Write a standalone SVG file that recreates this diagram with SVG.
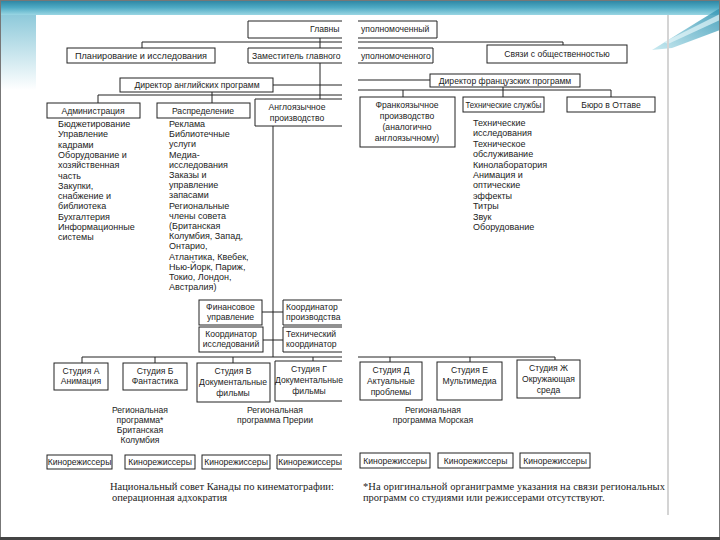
<svg xmlns="http://www.w3.org/2000/svg" width="720" height="540" viewBox="0 0 720 540">
<defs>
<linearGradient id="hdr" x1="0" y1="0" x2="0" y2="1">
<stop offset="0" stop-color="#2b82a0"/>
<stop offset="0.5" stop-color="#4eaac4"/>
<stop offset="1" stop-color="#9ad6e3"/>
</linearGradient>
<linearGradient id="side" x1="0" y1="0" x2="0" y2="1">
<stop offset="0" stop-color="#78bfd3"/>
<stop offset="1" stop-color="#ffffff"/>
</linearGradient>
<linearGradient id="sw" x1="0" y1="1" x2="1" y2="0">
<stop offset="0" stop-color="#bfe6ee"/>
<stop offset="1" stop-color="#2f93b2"/>
</linearGradient>
<style>
.box{fill:#fff;stroke:#222;stroke-width:1}
.ob{fill:none;stroke:#222;stroke-width:1}
.ln{fill:none;stroke:#222;stroke-width:1}
.t{font-family:"Liberation Sans",Arial,sans-serif;font-size:8.6px;fill:#1c1c1c}
.l{font-size:9px}
.c{text-anchor:middle}
.s{font-family:"Liberation Serif","Times New Roman",serif;font-size:10.5px;fill:#1c1c1c}
</style>
</defs>

<!-- slide background -->
<rect x="0" y="0" width="720" height="540" fill="#ffffff"/>
<rect x="0" y="0" width="36" height="90" fill="url(#side)"/>
<rect x="0" y="0" width="720" height="15" fill="url(#hdr)"/>
<polygon points="652,50 720,8 720,30 672,48" fill="url(#sw)" opacity="0.85"/>
<polygon points="664,42 720,14 720,20 668,44" fill="#e6f6f9" opacity="0.7"/>
<line x1="668" y1="15" x2="668" y2="515" stroke="#d4d4d4" stroke-width="2"/>
<rect x="0.5" y="0.5" width="719" height="539" fill="none" stroke="#777" stroke-width="1"/>
<line x1="0" y1="538.5" x2="720" y2="538.5" stroke="#444" stroke-width="3"/>

<!-- connectors -->
<g id="connectors">
<path class="ln" d="M320,38 V48 M320,63 V95"/>
<path class="ln" d="M142,48 V42 H342 M358,42 H563 V45"/>
<path class="ln" d="M273,85 H342 M358,80 H430"/>
<path class="ln" d="M98,103 V95 H342 M212,92 V103 M320,95 V99"/>
<path class="ln" d="M358,90 H611 V97 M403,90 V97 M503,87 V97"/>
<path class="ln" d="M273,126 V357"/>
<path class="ln" d="M262,312 H283 M263,340 H283"/>
<path class="ln" d="M82,363 V357 H342 M155,357 V363 M233,357 V363 M313,357 V361"/>
<path class="ln" d="M358,357 H555 V360 M390,357 V362 M470,357 V362"/>
</g>

<!-- top level -->
<g id="chief">
<path class="ob" d="M342,21 H248 V38 H342 M358,21 H437 V38 H358"/>
<text class="t" x="310" y="32">Главны</text>
<text class="t" x="361" y="32">уполномоченный</text>
</g>
<g id="planning">
<rect class="box" x="67" y="48" width="148" height="15"/>
<text class="t c" x="141" y="58.5" textLength="132" lengthAdjust="spacingAndGlyphs">Планирование и исследования</text>
</g>
<g id="deputy">
<path class="ob" d="M342,48 H248 V63 H342 M358,48 H433 V63 H358"/>
<text class="t" x="252" y="58.5">Заместитель главного</text>
<text class="t" x="361" y="58.5">уполномоченного</text>
</g>
<g id="pr">
<rect class="box" x="487" y="45" width="140" height="18"/>
<text class="t c" x="557" y="57">Связи с общественностью</text>
</g>
<g id="dir-en">
<rect class="box" x="120" y="78" width="153" height="14"/>
<text class="t c" x="197" y="88">Директор английских программ</text>
</g>
<g id="dir-fr">
<rect class="box" x="430" y="74" width="150" height="13"/>
<text class="t c" x="505" y="84">Директор французских программ</text>
</g>

<!-- english units -->
<g id="admin">
<rect class="box" x="47" y="103" width="93" height="15"/>
<text class="t c" x="93" y="113.5">Администрация</text>
<text class="t l" x="58" y="127">
<tspan x="58">Бюджетирование</tspan>
<tspan x="58" dy="10.3">Управление</tspan>
<tspan x="58" dy="10.3">кадрами</tspan>
<tspan x="58" dy="10.3">Оборудование и</tspan>
<tspan x="58" dy="10.3">хозяйственная</tspan>
<tspan x="58" dy="10.3">часть</tspan>
<tspan x="58" dy="10.3">Закупки,</tspan>
<tspan x="58" dy="10.3">снабжение и</tspan>
<tspan x="58" dy="10.3">библиотека</tspan>
<tspan x="58" dy="10.3">Бухгалтерия</tspan>
<tspan x="58" dy="10.3">Информационные</tspan>
<tspan x="58" dy="10.3">системы</tspan>
</text>
</g>
<g id="distribution">
<rect class="box" x="157" y="103" width="93" height="15"/>
<text class="t c" x="203" y="113.5">Распределение</text>
<text class="t l" x="169" y="127">
<tspan x="169">Реклама</tspan>
<tspan x="169" dy="10.2">Библиотечные</tspan>
<tspan x="169" dy="10.2">услуги</tspan>
<tspan x="169" dy="10.2">Медиа-</tspan>
<tspan x="169" dy="10.2">исследования</tspan>
<tspan x="169" dy="10.2">Заказы и</tspan>
<tspan x="169" dy="10.2">управление</tspan>
<tspan x="169" dy="10.2">запасами</tspan>
<tspan x="169" dy="10.2">Региональные</tspan>
<tspan x="169" dy="10.2">члены совета</tspan>
<tspan x="169" dy="10.2">(Британская</tspan>
<tspan x="169" dy="10.2">Колумбия, Запад,</tspan>
<tspan x="169" dy="10.2">Онтарио,</tspan>
<tspan x="169" dy="10.2">Атлантика, Квебек,</tspan>
<tspan x="169" dy="10.2">Нью-Йорк, Париж,</tspan>
<tspan x="169" dy="10.2">Токио, Лондон,</tspan>
<tspan x="169" dy="10.2">Австралия)</tspan>
</text>
</g>
<g id="en-prod">
<path class="ob" d="M342,99 H255 V126 H342"/>
<text class="t c" x="297" y="110">Англоязычное</text>
<text class="t c" x="297" y="121">производство</text>
</g>

<!-- french units -->
<g id="fr-prod">
<rect class="box" x="360" y="97" width="95" height="50"/>
<text class="t c" x="407" y="108">Франкоязычное</text>
<text class="t c" x="407" y="119">производство</text>
<text class="t c" x="407" y="130">(аналогично</text>
<text class="t c" x="407" y="141">англоязычному)</text>
</g>
<g id="tech">
<rect class="box" x="463" y="97" width="81" height="15"/>
<text class="t c" x="503.5" y="107.5" textLength="76" lengthAdjust="spacingAndGlyphs">Технические службы</text>
<text class="t l" x="473" y="126">
<tspan x="473">Технические</tspan>
<tspan x="473" dy="10.4">исследования</tspan>
<tspan x="473" dy="10.4">Техническое</tspan>
<tspan x="473" dy="10.4">обслуживание</tspan>
<tspan x="473" dy="10.4">Кинолаборатория</tspan>
<tspan x="473" dy="10.4">Анимация и</tspan>
<tspan x="473" dy="10.4">оптические</tspan>
<tspan x="473" dy="10.4">эффекты</tspan>
<tspan x="473" dy="10.4">Титры</tspan>
<tspan x="473" dy="10.4">Звук</tspan>
<tspan x="473" dy="10.4">Оборудование</tspan>
</text>
</g>
<g id="ottawa">
<rect class="box" x="567" y="97" width="88" height="15"/>
<text class="t c" x="611" y="107.5">Бюро в Оттаве</text>
</g>

<!-- coordinators -->
<g id="finance">
<rect class="box" x="199" y="300" width="63" height="25"/>
<text class="t c" x="230.5" y="310">Финансовое</text>
<text class="t c" x="230.5" y="320">управление</text>
</g>
<g id="research-coord">
<rect class="box" x="199" y="327" width="64" height="25"/>
<text class="t c" x="231" y="337">Координатор</text>
<text class="t c" x="231" y="347">исследований</text>
</g>
<g id="prod-coord">
<path class="ob" d="M342,300 H283 V325 H342"/>
<text class="t" x="286" y="310">Координатор</text>
<text class="t" x="286" y="320">производства</text>
</g>
<g id="tech-coord">
<path class="ob" d="M342,327 H283 V352 H342"/>
<text class="t" x="286" y="337">Технический</text>
<text class="t" x="286" y="347">координатор</text>
</g>

<!-- studios -->
<g id="studio-a">
<rect class="box" x="54" y="363" width="54" height="27"/>
<text class="t c" x="81" y="374">Студия А</text>
<text class="t c" x="81" y="384">Анимация</text>
</g>
<g id="studio-b">
<rect class="box" x="123" y="363" width="64" height="27"/>
<text class="t c" x="155" y="374">Студия Б</text>
<text class="t c" x="155" y="384">Фантастика</text>
</g>
<g id="studio-v">
<rect class="box" x="197" y="363" width="73" height="39"/>
<text class="t c" x="233" y="374">Студия В</text>
<text class="t c" x="233" y="385">Документальные</text>
<text class="t c" x="233" y="396">фильмы</text>
</g>
<g id="studio-g">
<path class="ob" d="M342,361 H275 V401 H342"/>
<text class="t c" x="309" y="372">Студия Г</text>
<text class="t c" x="309" y="383">Документальные</text>
<text class="t c" x="309" y="394">фильмы</text>
</g>
<g id="studio-d">
<rect class="box" x="360" y="362" width="62" height="38"/>
<text class="t c" x="391" y="373">Студия Д</text>
<text class="t c" x="391" y="384">Актуальные</text>
<text class="t c" x="391" y="395">проблемы</text>
</g>
<g id="studio-e">
<rect class="box" x="437" y="362" width="65" height="38"/>
<text class="t c" x="469.5" y="373">Студия Е</text>
<text class="t c" x="469.5" y="384">Мультимедиа</text>
</g>
<g id="studio-zh">
<rect class="box" x="517" y="360" width="63" height="38"/>
<text class="t c" x="548.5" y="371">Студия Ж</text>
<text class="t c" x="548.5" y="382">Окружающая</text>
<text class="t c" x="548.5" y="393">среда</text>
</g>

<!-- regional programmes -->
<g id="reg-bc">
<text class="t c" x="140" y="413">Региональная</text>
<text class="t c" x="140" y="423">программа*</text>
<text class="t c" x="140" y="433">Британская</text>
<text class="t c" x="140" y="443">Колумбия</text>
</g>
<g id="reg-prairie">
<text class="t c" x="275" y="413">Региональная</text>
<text class="t c" x="275" y="423">программа Прерии</text>
</g>
<g id="reg-sea">
<text class="t c" x="433" y="413">Региональная</text>
<text class="t c" x="433" y="423">программа Морская</text>
</g>

<!-- directors -->
<g id="dir1"><rect class="box" x="47" y="455" width="65" height="14"/><text class="t c" x="79.5" y="465" font-size="8">Кинорежиссеры</text></g>
<g id="dir2"><rect class="box" x="125" y="455" width="70" height="14"/><text class="t c" x="160" y="465" font-size="8">Кинорежиссеры</text></g>
<g id="dir3"><rect class="box" x="202" y="455" width="68" height="14"/><text class="t c" x="236" y="465" font-size="8">Кинорежиссеры</text></g>
<g id="dir4"><path class="ob" d="M342,455 H277 V469 H342"/><text class="t c" x="310" y="465" font-size="8">Кинорежиссеры</text></g>
<g id="dir5"><rect class="box" x="360" y="453" width="70" height="15"/><text class="t c" x="395" y="463.5" font-size="8">Кинорежиссеры</text></g>
<g id="dir6"><rect class="box" x="438" y="453" width="75" height="15"/><text class="t c" x="475.5" y="463.5" font-size="8">Кинорежиссеры</text></g>
<g id="dir7"><rect class="box" x="520" y="453" width="70" height="15"/><text class="t c" x="555" y="463.5" font-size="8">Кинорежиссеры</text></g>

<!-- captions -->
<g id="caption-left">
<text class="s" x="110" y="490">Национальный совет Канады по кинематографии:</text>
<text class="s" x="112" y="501">операционная адхократия</text>
</g>
<g id="caption-right">
<text class="s" x="363" y="490" textLength="302" lengthAdjust="spacing">*На оригинальной органиграмме указания на связи региональных</text>
<text class="s" x="363" y="501">программ со студиями или режиссерами отсутствуют.</text>
</g>
</svg>
